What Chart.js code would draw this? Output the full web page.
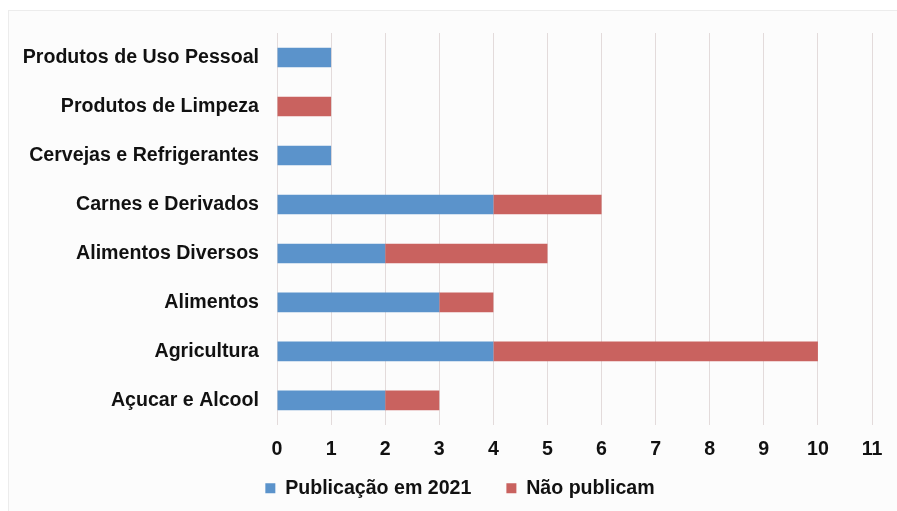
<!DOCTYPE html>
<html>
<head>
<meta charset="utf-8">
<script src="https://cdn.jsdelivr.net/npm/chart.js@4"></script>
<style>
  html, body { margin: 0; padding: 0; background: #ffffff; overflow: hidden; }
  #wrap { position: relative; width: 897px; height: 511px; }
  #frame { position: absolute; left: 8px; top: 10px; width: 900px; height: 520px;
           border: 1px solid #ececec; background: #fcfcfc; box-sizing: border-box; }
  canvas { position: absolute; left: 0; top: 0; }
</style>
</head>
<body>
<div id="wrap">
  <div id="frame"></div>
  <canvas id="chart" width="897" height="511"></canvas>
</div>
<script>
const categories = [
    "Produtos de Uso Pessoal",
    "Produtos de Limpeza",
    "Cervejas e Refrigerantes",
    "Carnes e Derivados",
    "Alimentos Diversos",
    "Alimentos",
    "Agricultura",
    "Açucar e Alcool"
];
const publicacao = [1, 0, 1, 4, 2, 3, 4, 2];
const naoPublicam = [0, 1, 0, 2, 3, 1, 6, 1];
const seriesNames = ["Publicação em 2021", "Não publicam"];
const seriesColors = ["#5b93cb", "#c9625f"];

const boldFont = { family: "'Liberation Sans', Arial, Helvetica, sans-serif", size: 19.6, weight: "bold" };

// nudge the legend: a bit right, and up closer to the axis labels
const legendNudge = {
    id: 'legendNudge',
    afterLayout(chart) {
        const lg = chart.legend;
        lg.left += 40;
        lg.top -= 31;
        lg.bottom -= 31;
    }
};

new Chart(document.getElementById("chart"), {
    type: 'bar',
    data: {
        labels: categories,
        datasets: [
            { label: seriesNames[0], data: publicacao, backgroundColor: seriesColors[0] },
            { label: seriesNames[1], data: naoPublicam, backgroundColor: seriesColors[1] }
        ]
    },
    plugins: [legendNudge],
    options: {
        indexAxis: 'y',
        responsive: false,
        animation: false,
        barPercentage: 0.8,
        categoryPercentage: 0.5,
        layout: { padding: { top: 33, right: 25, left: 8, bottom: -28 } },
        scales: {
            x: {
                stacked: true,
                min: 0,
                max: 11,
                ticks: { stepSize: 1, color: "#111", font: boldFont, padding: 13 },
                grid: { color: "#e3dbdb", drawTicks: false },
                border: { display: false }
            },
            y: {
                stacked: true,
                ticks: { color: "#111", font: boldFont, padding: 18 },
                grid: { display: false, drawTicks: false },
                border: { display: false },
                afterFit: (scale) => { scale.width = 269; }
            }
        },
        plugins: {
            legend: {
                position: 'bottom',
                labels: {
                    color: "#111",
                    font: boldFont,
                    boxWidth: 10,
                    boxHeight: 10,
                    padding: 35
                }
            },
            tooltip: { enabled: false }
        }
    }
});
</script>
</body>
</html>
